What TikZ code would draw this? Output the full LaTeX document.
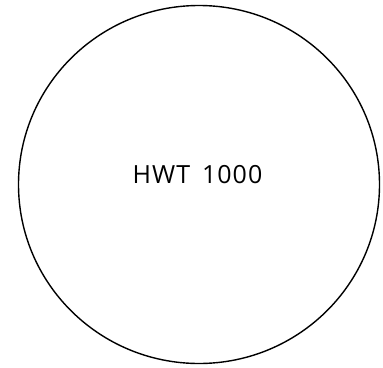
\documentclass[tikz,border=0pt]{standalone}
\usepackage{fontspec}
\setmainfont{Open Sans}
\newfontfamily\lblfont[LetterSpace=4]{Open Sans}
\usetikzlibrary{shapes.geometric}
\begin{document}
\begin{tikzpicture}[x=1pt,y=-1pt,
  outline/.style={draw=black,line width=1.4pt,ellipse,minimum width=361pt,minimum height=358pt,inner sep=0pt},
  lbl/.style={font=\lblfont\fontsize{25}{30}\selectfont,inner sep=0pt,anchor=base}]
\useasboundingbox (0,0) rectangle (383,367);
\node[outline] (c) at (199,184.5) {};
\node[lbl] (t) at (197.5,183.3) {HWT\hspace{12pt}1000};
\end{tikzpicture}
\end{document}
